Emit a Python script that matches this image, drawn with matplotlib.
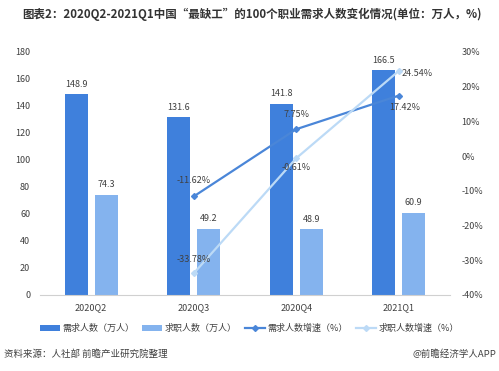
import matplotlib
matplotlib.use("Agg")
import matplotlib.pyplot as plt
import numpy as np

plt.rcParams['font.family'] = ['Noto Sans CJK SC', 'DejaVu Sans']

categories = ["2020Q2", "2020Q3", "2020Q4", "2021Q1"]
demand = [148.9, 131.6, 141.8, 166.5]
seekers = [74.3, 49.2, 48.9, 60.9]
demand_growth = [None, -11.62, 7.75, 17.42]
seeker_growth = [None, -33.78, -0.61, 24.54]

c_dark = "#3f80dc"
c_light = "#84b3ee"
c_line1 = "#4a86d8"
c_line2 = "#bcdaf6"
txt = "#404040"

fig = plt.figure(figsize=(4.99, 3.71), dpi=100)
ax = fig.add_axes([0.08, 0.205, 0.822, 0.655])
ax2 = ax.twinx()

x = np.arange(len(categories))
w = 0.225
off = 0.145
b1 = ax.bar(x - off, demand, w, color=c_dark, zorder=2)
b2 = ax.bar(x + off, seekers, w, color=c_light, zorder=2)
for xi, v in zip(x, demand):
    ax.text(xi - off, v + 4, f"{v}", ha="center", va="bottom", fontsize=6.5, color=txt)
for xi, v in zip(x, seekers):
    ax.text(xi + off, v + 4, f"{v}", ha="center", va="bottom", fontsize=6.5, color=txt)

ax.set_xlim(-0.5, 3.5)
ax.set_ylim(0, 180)
ax.set_yticks(range(0, 181, 20))
ax.set_xticks(x)
ax.set_xticklabels(categories)
ax2.set_ylim(-40, 30)
ax2.set_yticks(range(-40, 31, 10))
ax2.set_yticklabels([f"{t}%" for t in range(-40, 31, 10)])

xs = x[1:]
g1 = [v for v in demand_growth if v is not None]
g2 = [v for v in seeker_growth if v is not None]
l1, = ax2.plot(xs, g1, color=c_line1, lw=1.6, marker="D", ms=3, zorder=3)
l2, = ax2.plot(xs, g2, color=c_line2, lw=1.6, marker="D", ms=3, zorder=3)

ax2.text(xs[0], g1[0] + 3.2, "-11.62%", ha="center", va="bottom", fontsize=6.5, color=txt)
ax2.text(xs[1], g1[1] + 3.0, "7.75%", ha="center", va="bottom", fontsize=6.5, color=txt)
ax2.text(xs[2] + 0.06, g1[2] - 2.0, "17.42%", ha="center", va="top", fontsize=6.5, color=txt)
ax2.text(xs[0], g2[0] + 2.6, "-33.78%", ha="center", va="bottom", fontsize=6.5, color=txt)
ax2.text(xs[1], g2[1] - 1.5, "-0.61%", ha="center", va="top", fontsize=6.5, color=txt)
ax2.text(xs[2] + 0.18, g2[2] - 0.8, "24.54%", ha="center", va="center", fontsize=6.5, color=txt)

for a in (ax, ax2):
    for s in ("top", "left", "right"):
        a.spines[s].set_visible(False)
    a.tick_params(axis="both", length=0, labelsize=6.5, colors=txt)
ax.spines["bottom"].set_color("#d0d0d0")
ax2.spines["bottom"].set_visible(False)
ax.tick_params(axis="x", pad=6)
ax.tick_params(axis="y", pad=7)
ax2.tick_params(axis="y", pad=8)

fig.legend([b1, b2, l1, l2],
           ["需求人数（万人）", "求职人数（万人）", "需求人数增速（%）", "求职人数增速（%）"],
           loc="center", bbox_to_anchor=(0.5, 0.115), ncol=4, frameon=False,
           fontsize=6.5, handlelength=2.2, handletextpad=0.3, columnspacing=0.9,
           labelcolor=txt)

fig.text(0.044, 0.962, "图表2：2020Q2-2021Q1中国\u201c最缺工\u201d的100个职业需求人数变化情况(单位：万人，%)",
         fontsize=8.3, fontweight="bold", color="#333333", va="center")
fig.text(0.008, 0.045, "资料来源：人社部 前瞻产业研究院整理", fontsize=6.8, color=txt, va="center")
fig.text(0.995, 0.045, "@前瞻经济学人APP", fontsize=6.8, color=txt, va="center", ha="right")

fig.savefig("out.png", dpi=100)
